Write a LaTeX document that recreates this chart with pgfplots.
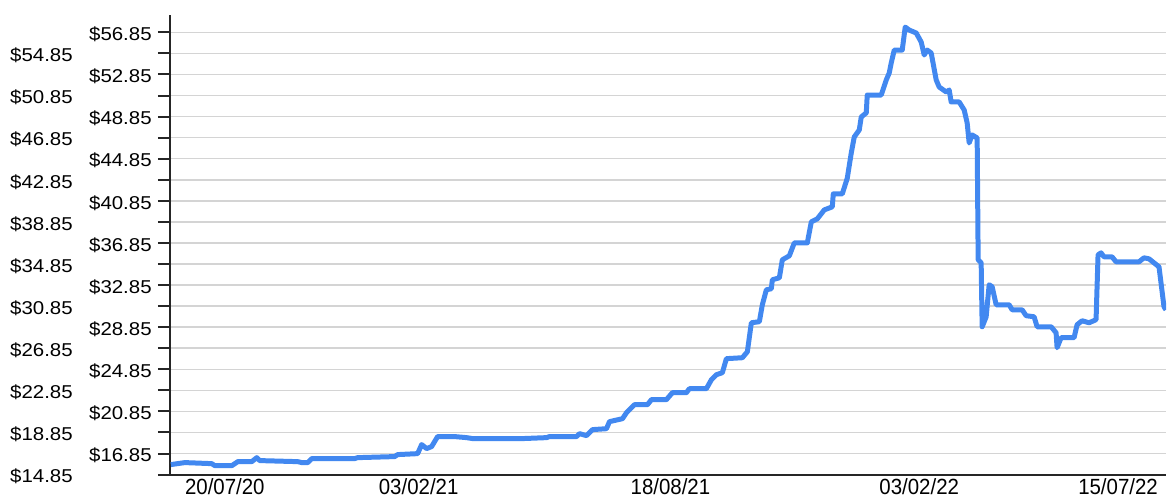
\documentclass[border=0pt]{standalone}
\usepackage{pgfplots}
\pgfplotsset{compat=1.18}
\usepackage{fontspec}
\setmainfont{Liberation Sans}
\usepackage{graphicx}
\definecolor{lineblue}{RGB}{66,136,240}
\definecolor{gridgray}{RGB}{212,212,212}
\newcommand{\yl}[1]{\scalebox{1.1}[1]{\$#1}}
\newcommand{\yll}[1]{\scalebox{1.1}[1]{\$#1}\rule{79pt}{0pt}}
\newcommand{\xl}[1]{\scalebox{0.93}[1]{#1}}
\begin{document}
\begin{tikzpicture}
\begin{axis}[
  scale only axis, width=997pt, height=460pt,
  xmin=0, xmax=997, ymin=14.85, ymax=58.5,
  axis x line=bottom, axis y line=left,
  axis line style={-, line width=2pt, color=black!85},
  ytick={14.85,16.85,18.85,20.85,22.85,24.85,26.85,28.85,30.85,32.85,34.85,36.85,38.85,40.85,42.85,44.85,46.85,48.85,50.85,52.85,54.85,56.85},
  yticklabels={\yll{14.85},\yl{16.85},\yll{18.85},\yl{20.85},\yll{22.85},\yl{24.85},\yll{26.85},\yl{28.85},\yll{30.85},\yl{32.85},\yll{34.85},\yl{36.85},\yll{38.85},\yl{40.85},\yll{42.85},\yl{44.85},\yll{46.85},\yl{48.85},\yll{50.85},\yl{52.85},\yll{54.85},\yl{56.85}},
  xtick={55,249,501,750,949},
  xticklabels={\xl{20/07/20},\xl{03/02/21},\xl{18/08/21},\xl{03/02/22},\xl{15/07/22}},
  ymajorgrids, grid style={gridgray, line width=1.5pt},
  tick align=outside, major tick length=12pt,
  ytick style={black!85, line width=2pt},
  xtick style={draw=none},
  yticklabel style={font=\fontsize{18.6}{20}\selectfont, inner sep=0pt, anchor=east, xshift=-6pt, yshift=-2pt},
  xticklabel style={font=\fontsize{22}{24}\selectfont, inner sep=0pt, anchor=north, yshift=8pt},
]
\addplot[lineblue, line width=5pt, line join=round, no marks] table {
x y
1 15.80
15 15.99
42 15.89
45 15.70
62 15.70
68 16.08
82 16.08
87 16.46
90 16.18
128 16.08
132 15.99
138 15.99
142 16.37
185 16.37
188 16.46
225 16.56
228 16.75
248 16.84
252 17.70
257 17.32
262 17.51
268 18.46
285 18.46
297 18.36
303 18.27
353 18.27
377 18.36
380 18.46
407 18.46
410 18.74
417 18.55
423 19.12
437 19.21
440 19.88
453 20.16
457 20.73
465 21.49
478 21.49
482 21.97
497 21.97
503 22.63
517 22.63
520 23.01
537 23.01
542 23.86
547 24.34
553 24.53
557 25.86
573 25.95
578 26.52
582 29.27
590 29.37
593 30.98
597 32.40
602 32.50
603 33.35
610 33.54
613 35.25
620 35.63
625 36.86
638 36.86
642 38.85
648 39.14
655 39.99
663 40.28
664 41.51
673 41.51
678 43.00
682 45.40
685 46.92
690 47.58
692 48.82
697 49.20
698 50.90
712 50.90
713 51.19
717 52.33
720 52.99
722 53.94
725 55.17
733 55.17
736 57.35
740 57.07
747 56.79
752 55.93
755 54.70
758 55.17
762 54.89
767 52.33
770 51.66
777 51.19
780 51.38
782 50.24
790 50.24
795 49.48
798 48.25
800 46.35
803 47.11
808 46.82
809 35.25
812 34.96
813 28.89
817 29.84
820 32.88
823 32.69
827 30.98
840 30.98
843 30.50
853 30.50
857 29.94
865 29.84
868 28.89
882 28.89
887 28.32
888 26.90
892 27.85
905 27.85
908 29.08
913 29.46
920 29.27
927 29.56
929 35.72
932 35.91
935 35.53
943 35.53
947 35.06
970 35.06
975 35.44
980 35.34
985 34.96
990 34.58
995 30.79
997 30.50
};
\end{axis}
\path (current axis.south west) ++(-170pt,-24pt) rectangle ++(1167pt,499pt);
\end{tikzpicture}
\end{document}
